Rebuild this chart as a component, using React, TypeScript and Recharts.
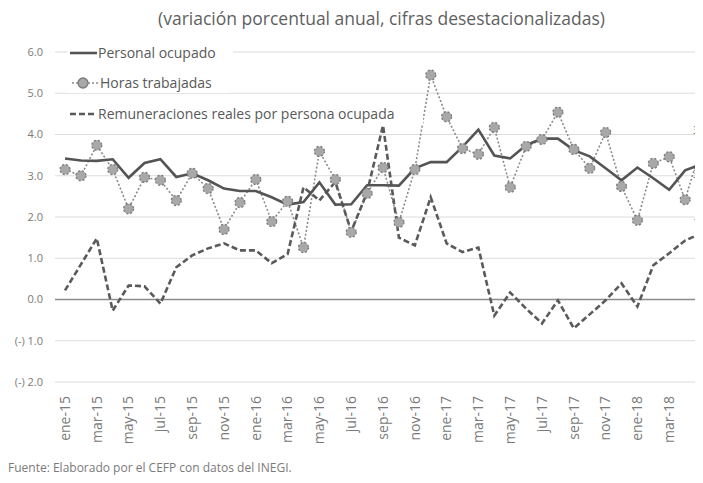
import React from 'react';
import { LineChart, Line, XAxis, YAxis, CartesianGrid, ReferenceLine } from 'recharts';

const months = [
  'ene-15','feb-15','mar-15','abr-15','may-15','jun-15','jul-15','ago-15','sep-15','oct-15','nov-15','dic-15',
  'ene-16','feb-16','mar-16','abr-16','may-16','jun-16','jul-16','ago-16','sep-16','oct-16','nov-16','dic-16',
  'ene-17','feb-17','mar-17','abr-17','may-17','jun-17','jul-17','ago-17','sep-17','oct-17','nov-17','dic-17',
  'ene-18','feb-18','mar-18','abr-18','may-18'
];

const personalOcupado = [
  3.42, 3.37, 3.36, 3.40, 2.95, 3.31, 3.40, 2.97, 3.06, 2.89, 2.69, 2.63,
  2.63, 2.48, 2.30, 2.36, 2.84, 2.30, 2.31, 2.77, 2.77, 2.76, 3.18, 3.33,
  3.33, 3.70, 4.12, 3.49, 3.42, 3.74, 3.90, 3.90, 3.62, 3.47, 3.18, 2.89,
  3.20, 2.94, 2.66, 3.13, 3.28
];

const horasTrabajadas = [
  3.15, 3.00, 3.74, 3.15, 2.20, 2.96, 2.89, 2.40, 3.06, 2.69, 1.70, 2.35,
  2.91, 1.89, 2.38, 1.26, 3.59, 2.91, 1.63, 2.57, 3.20, 1.87, 3.15, 5.44,
  4.43, 3.66, 3.52, 4.17, 2.72, 3.71, 3.88, 4.54, 3.64, 3.18, 4.05, 2.74,
  1.92, 3.30, 3.46, 2.42, 3.69
];

const remuneraciones = [
  0.22, 0.85, 1.48, -0.27, 0.34, 0.32, -0.10, 0.78, 1.07, 1.24, 1.36, 1.19,
  1.19, 0.88, 1.10, 2.72, 2.40, 2.85, 1.65, 2.60, 4.22, 1.50, 1.31, 2.48,
  1.36, 1.15, 1.26, -0.39, 0.17, -0.22, -0.58, -0.02, -0.70, -0.36, -0.02, 0.39,
  -0.17, 0.83, 1.12, 1.43, 1.60
];

const yTicks = [-2, -1, 0, 1, 2, 3, 4, 5, 6];

const legendItems = ['Personal ocupado', 'Horas trabajadas', 'Remuneraciones reales por persona ocupada'];
const title = '(variación porcentual anual, cifras desestacionalizadas)';
const source = 'Fuente: Elaborado por el CEFP con datos del INEGI.';

const data = months.map((m, i) => ({
  m,
  po: personalOcupado[i],
  ht: horasTrabajadas[i],
  rr: remuneraciones[i],
}));

const FONT = '"Open Sans", "Noto Sans", sans-serif';
const LAST = months.length - 1;

const fmtY = (v: number) => (v < 0 ? `(-) ${Math.abs(v).toFixed(1)}` : v.toFixed(1));

const XTick = (props: any) => {
  const { x, y, payload } = props;
  return (
    <text
      x={x}
      y={y}
      transform={`rotate(-90, ${x}, ${y})`}
      textAnchor="end"
      dy="0.35em"
      fill="#7a7a7a"
      fontSize={14}
      fontFamily={FONT}
    >
      {payload.value}
    </text>
  );
};

const endLabel = (dy: number) => (props: any) => {
  const { x, y, index, value } = props;
  if (index !== LAST) return null;
  return (
    <text x={x - 8} y={y + dy} fill="#7a7a7a" fontSize={10} fontFamily={FONT}>
      {Number(value).toFixed(1)}
    </text>
  );
};

export default function App() {
  return (
    <div style={{ position: 'relative', width: 695, height: 475, background: '#fff' }}>
      <div style={{ position: 'absolute', left: 0, top: 0, width: 695, height: 475, overflow: 'hidden' }}>
        <LineChart
          width={720}
          height={467}
          data={data}
          margin={{ top: 44, right: 17, bottom: 33, left: 0 }}
        >
          <CartesianGrid vertical={false} stroke="#dcdcdc" strokeWidth={1.2} />
          <XAxis
            dataKey="m"
            interval={1}
            tick={<XTick />}
            tickLine={false}
            axisLine={false}
            height={60}
            padding={{ left: 10, right: 10 }}
            tickMargin={8}
          />
          <YAxis
            domain={[-2, 6]}
            ticks={yTicks}
            tickFormatter={fmtY}
            width={47}
            axisLine={false}
            tickLine={false}
            tickSize={0}
            tickMargin={12}
            tick={{ fill: '#7a7a7a', fontSize: 11, fontFamily: FONT }}
          />
          <ReferenceLine y={0} stroke="#8c8c8c" strokeWidth={1.6} />
          <Line
            type="linear"
            dataKey="ht"
            stroke="#8a8a8a"
            strokeWidth={1.6}
            strokeDasharray="2 2"
            dot={{ r: 5, fill: '#a8a8a8', stroke: '#7a7a7a', strokeWidth: 1.3 }}
            isAnimationActive={false}
            label={endLabel(-13)}
          />
          <Line
            type="linear"
            dataKey="rr"
            stroke="#5a5a5a"
            strokeWidth={2.6}
            strokeDasharray="6 3"
            dot={false}
            isAnimationActive={false}
            label={endLabel(-8)}
          />
          <Line
            type="linear"
            dataKey="po"
            stroke="#545454"
            strokeWidth={2.6}
            dot={false}
            isAnimationActive={false}
            label={endLabel(14)}
          />
        </LineChart>
      </div>
      <div
        style={{
          position: 'absolute',
          left: 0,
          top: 0,
          width: 695,
          boxSizing: 'border-box',
          paddingLeft: 52,
          textAlign: 'center',
          fontFamily: FONT,
          fontSize: 17.5,
          color: '#5f5f5f',
          lineHeight: '20px',
          whiteSpace: 'nowrap',
        }}
      >
        {title}
      </div>
      <svg
        width={380}
        height={90}
        style={{ position: 'absolute', left: 55, top: 33 }}
      >
        <g fontFamily={FONT} fontSize={14} fill="#595959">
          <rect x={5} y={2} width={165} height={20} fill="#fff" />
          <line x1={7} y1={12} x2={34} y2={12} stroke="#545454" strokeWidth={2.6} />
          <text x={35} y={12} dy="0.35em">{legendItems[0]}</text>
          <rect x={5} y={32} width={160} height={20} fill="#fff" />
          <line x1={9} y1={42} x2={36} y2={42} stroke="#8a8a8a" strokeWidth={1.6} strokeDasharray="2 2" />
          <circle cx={20} cy={42} r={5} fill="#a8a8a8" stroke="#7a7a7a" strokeWidth={1.3} />
          <text x={37} y={42} dy="0.35em">{legendItems[1]}</text>
          <rect x={5} y={63} width={355} height={20} fill="#fff" />
          <line x1={7} y1={73} x2={34} y2={73} stroke="#5a5a5a" strokeWidth={2.6} strokeDasharray="6 3" />
          <text x={35} y={73} dy="0.35em">{legendItems[2]}</text>
        </g>
      </svg>
      <div
        style={{
          position: 'absolute',
          left: 0,
          top: 451,
          fontFamily: FONT,
          fontSize: 12,
          color: '#7a7a7a',
          whiteSpace: 'nowrap',
        }}
      >
        {source}
      </div>
    </div>
  );
}
